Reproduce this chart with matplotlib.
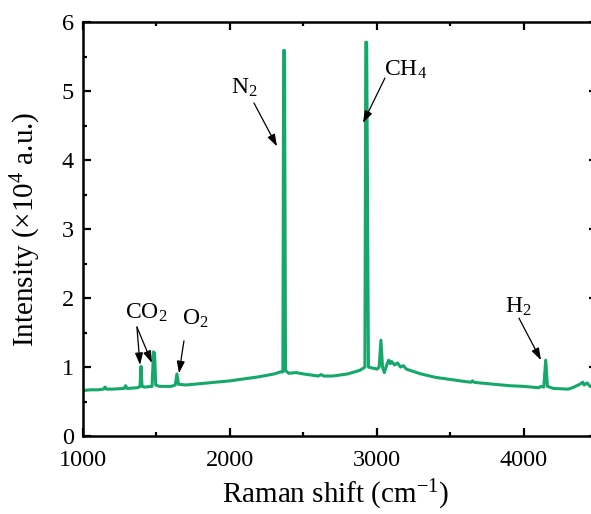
import matplotlib
matplotlib.use("Agg")
import matplotlib.pyplot as plt
from matplotlib.ticker import MultipleLocator

plt.rcParams['font.family'] = ['Liberation Serif', 'DejaVu Serif']
plt.rcParams['mathtext.fontset'] = 'custom'
plt.rcParams['mathtext.rm'] = 'Liberation Serif'
plt.rcParams['mathtext.it'] = 'Liberation Serif:italic'

# Raman spectrum (intensity in 10^4 a.u.)
shift = [1000, 1050, 1100, 1140, 1150, 1160, 1200, 1280, 1290, 1300, 1370,
         1388, 1395, 1402, 1420, 1470, 1480, 1487, 1495, 1520, 1600,
         1628, 1639, 1650, 1700, 1800, 1900, 2000, 2100, 2200, 2300, 2345,
         2360, 2365, 2371, 2378, 2400, 2450, 2500, 2600, 2620, 2640, 2700,
         2800, 2880, 2905, 2918, 2924, 2930, 2942, 2980, 3000, 3015, 3027,
         3038, 3050, 3070, 3080, 3090, 3100, 3120, 3140, 3160, 3180, 3200,
         3300, 3400, 3500, 3600, 3640, 3650, 3660, 3700, 3800, 3900, 4000,
         4100, 4115, 4135, 4148, 4160, 4200, 4300, 4330, 4380, 4400, 4410,
         4430, 4450, 4500]
intensity = [0.66, 0.67, 0.67, 0.68, 0.71, 0.68, 0.68, 0.69, 0.73, 0.69, 0.70,
             0.72, 1.01, 0.72, 0.71, 0.72, 1.22, 1.20, 0.74, 0.72, 0.72,
             0.74, 0.90, 0.75, 0.74, 0.76, 0.78, 0.80, 0.83, 0.86, 0.90, 0.93,
             0.93, 5.59, 5.59, 0.95, 0.91, 0.92, 0.90, 0.87, 0.89, 0.87, 0.87,
             0.90, 0.95, 0.98, 1.00, 5.71, 5.71, 1.00, 0.98, 0.97, 1.00, 1.39,
             1.00, 0.92, 1.05, 1.10, 1.05, 1.08, 1.03, 1.06, 1.00, 1.02, 0.97,
             0.90, 0.85, 0.82, 0.79, 0.78, 0.80, 0.78, 0.77, 0.75, 0.73, 0.72,
             0.70, 0.72, 0.71, 1.10, 0.72, 0.69, 0.68, 0.70, 0.75, 0.78, 0.74,
             0.77, 0.72, 0.70]

# peak labels: text anchor (left, baseline), arrow tails and tips
labels = ['N$_2$', 'CH$_4$', 'CO$_2$', 'O$_2$', 'H$_2$']
label_pos = [(2007, 4.96), (3048, 5.22), (1286, 1.70), (1673, 1.61), (3871, 1.79)]
arrow_tails = [[(2163, 4.83)], [(3054, 5.19)], [(1367, 1.58), (1367, 1.58)],
               [(1687, 1.38)], [(3966, 1.71)]]
arrow_heads = [[(2320, 4.20)], [(2905, 4.54)], [(1388, 1.03), (1469, 1.06)],
               [(1653, 0.91)], [(4116, 1.10)]]

fig = plt.figure(figsize=(5.91, 5.14), dpi=100)
ax = fig.add_axes([0.1404, 0.1517, 0.8705, 0.805])

ax.plot(shift, intensity, color='#14A86B', lw=2.2)

for lab, pos, tails, heads in zip(labels, label_pos, arrow_tails, arrow_heads):
    ax.text(pos[0], pos[1], lab, fontsize=17, ha='left', va='baseline')
    for t, h in zip(tails, heads):
        ax.annotate('', xy=h, xytext=t,
                    arrowprops=dict(arrowstyle='-|>,head_length=0.6,head_width=0.2',
                                    color='black', lw=0.9,
                                    mutation_scale=12, shrinkA=0, shrinkB=0))

ax.set_xlim(1000, 4500)
ax.set_ylim(0, 6)
ax.xaxis.set_major_locator(MultipleLocator(1000))
ax.xaxis.set_minor_locator(MultipleLocator(500))
ax.yaxis.set_major_locator(MultipleLocator(1))
ax.yaxis.set_minor_locator(MultipleLocator(0.5))
ax.tick_params(which='both', direction='in', top=True, right=True,
               labelsize=17.5, width=1.6)
ax.tick_params(which='major', length=6)
ax.tick_params(which='minor', length=3)
ax.tick_params(axis='x', pad=10)
ax.tick_params(axis='y', pad=6.5)
for s in ax.spines.values():
    s.set_linewidth(1.8)

ax.set_xlabel('Raman shift (cm$^{-1}$)', fontsize=21, va='baseline')
ax.xaxis.set_label_coords(0.492, -0.162)
ax.set_ylabel('Intensity (\u00d710$^4$ a.u.)', fontsize=21, va='center')
ax.yaxis.set_label_coords(-0.11, 0.5)

fig.savefig('out.png', dpi=100)
